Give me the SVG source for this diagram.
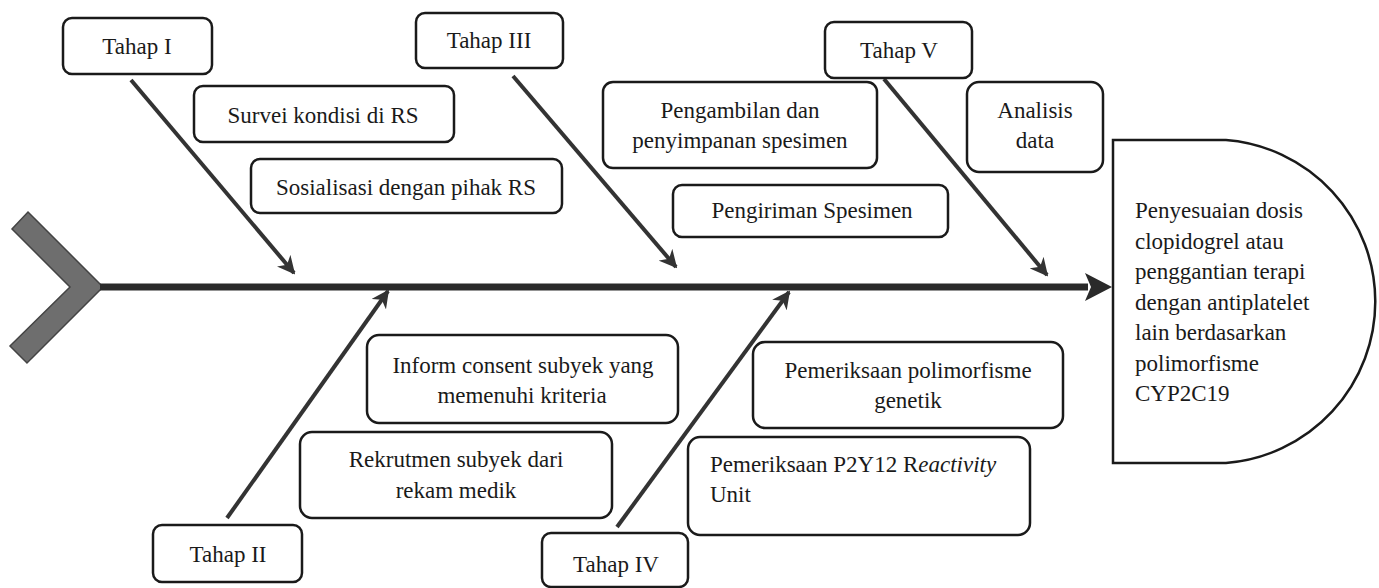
<svg xmlns="http://www.w3.org/2000/svg" width="1379" height="588" viewBox="0 0 1379 588">
<style>
.box{fill:#fff;stroke:#1a1a1a;stroke-width:2.5}
.t{font-family:"Liberation Serif","Times New Roman",serif;font-size:23px;fill:#1a1a1a}
.c{text-anchor:middle}
.bone{stroke:#333;stroke-width:4;fill:none;marker-end:url(#ah)}
</style>
<defs>
<marker id="ah" viewBox="0 0 10 10" refX="9" refY="5" markerWidth="4.5" markerHeight="4.5" orient="auto" markerUnits="strokeWidth">
<path d="M0,0 L10,5 L0,10 L3,5 Z" fill="#333"/>
</marker>
</defs>
<rect width="1379" height="588" fill="#fff"/>
<g id="connectors">
<polygon id="tail" points="28,212 103,287 27,363 10,346 70,287 12,229" fill="#6e6e6e" stroke="#444" stroke-width="1.5"/>
<line x1="100" y1="287" x2="1088" y2="287" stroke="#2a2a2a" stroke-width="7"/>
<polygon points="1085,273 1112,287 1085,301 1091,287" fill="#2a2a2a"/>
<line class="bone" x1="131" y1="80" x2="294" y2="273"/>
<line class="bone" x1="513" y1="76" x2="676" y2="267"/>
<line class="bone" x1="884" y1="79" x2="1047" y2="275"/>
<line class="bone" x1="227" y1="518" x2="388" y2="291"/>
<line class="bone" x1="617" y1="527" x2="789" y2="292"/>
</g>
<g id="tahap1"><rect class="box" x="63" y="18" width="149" height="56" rx="9"/><text class="t c" x="137" y="54">Tahap I</text></g>
<g id="survei"><rect class="box" x="194" y="86" width="260" height="56" rx="9"/><text class="t c" x="323" y="123">Survei kondisi di RS</text></g>
<g id="sosialisasi"><rect class="box" x="251" y="159" width="311" height="54" rx="9"/><text class="t c" x="406" y="195">Sosialisasi dengan pihak RS</text></g>
<g id="tahap3"><rect class="box" x="416" y="13" width="147" height="55" rx="9"/><text class="t c" x="489" y="48">Tahap III</text></g>
<g id="pengambilan"><rect class="box" x="603" y="82" width="274" height="86" rx="10"/><text class="t c" x="740" y="118">Pengambilan dan</text><text class="t c" x="740" y="148">penyimpanan spesimen</text></g>
<g id="pengiriman"><rect class="box" x="673" y="185" width="275" height="52" rx="9"/><text class="t c" x="812" y="218">Pengiriman Spesimen</text></g>
<g id="tahap5"><rect class="box" x="825" y="22" width="147" height="56" rx="9"/><text class="t c" x="899" y="58">Tahap V</text></g>
<g id="analisis"><rect class="box" x="967" y="82" width="136" height="90" rx="12"/><text class="t c" x="1035" y="118">Analisis</text><text class="t c" x="1035" y="148">data</text></g>
<g id="hasil">
<path class="box" d="M1113,140 H1226 A162,162 0 0 1 1226,463 H1113 Z"/>
<text class="t" x="1135" y="218">Penyesuaian dosis</text>
<text class="t" x="1135" y="248.5">clopidogrel atau</text>
<text class="t" x="1135" y="279">penggantian terapi</text>
<text class="t" x="1135" y="309.5">dengan antiplatelet</text>
<text class="t" x="1135" y="340">lain berdasarkan</text>
<text class="t" x="1135" y="370.5">polimorfisme</text>
<text class="t" x="1135" y="401">CYP2C19</text>
</g>
<g id="inform"><rect class="box" x="367" y="335" width="311" height="88" rx="12"/><text class="t c" x="523" y="373">Inform consent subyek yang</text><text class="t c" x="522" y="403">memenuhi kriteria</text></g>
<g id="rekrutmen"><rect class="box" x="300" y="432" width="312" height="86" rx="12"/><text class="t c" x="456" y="467">Rekrutmen subyek dari</text><text class="t c" x="456" y="498">rekam medik</text></g>
<g id="tahap2"><rect class="box" x="153" y="525" width="149" height="57" rx="9"/><text class="t c" x="228" y="562">Tahap II</text></g>
<g id="tahap4"><rect class="box" x="542" y="533" width="146" height="54" rx="9"/><text class="t c" x="616" y="572">Tahap IV</text></g>
<g id="polimorfisme"><rect class="box" x="753" y="342" width="310" height="86" rx="12"/><text class="t c" x="908" y="378">Pemeriksaan polimorfisme</text><text class="t c" x="908" y="408">genetik</text></g>
<g id="p2y12"><rect class="box" x="688" y="437" width="342" height="98" rx="12"/><text class="t" x="710" y="472">Pemeriksaan P2Y12 R<tspan font-style="italic">eactivity</tspan></text><text class="t" x="710" y="502">Unit</text></g>
</svg>
